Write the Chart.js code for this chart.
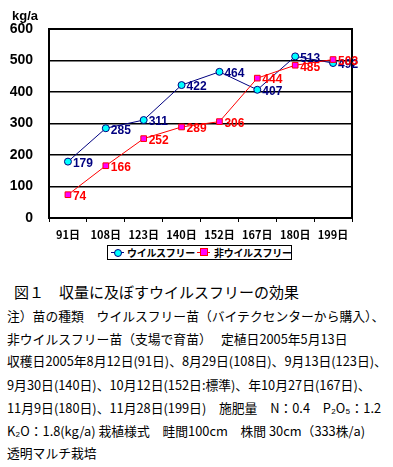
<!DOCTYPE html>
<html>
<head>
<meta charset="utf-8">
<script src="https://cdn.jsdelivr.net/npm/chart.js@4/dist/chart.umd.min.js"></script>
<style>
  body { margin: 0; background: #fff; width: 393px; height: 467px; overflow: hidden; position: relative; font-family: "Noto Sans CJK JP", sans-serif; }
  #wrap { position: absolute; left: 0; top: 0; width: 393px; height: 245px; }
  #unit { position: absolute; left: 12px; top: 8px; font: bold 13px "Liberation Sans", sans-serif; }
  #legend { position: absolute; left: 107px; top: 245px; width: 183px; height: 13px; border: 1px solid #000;
            font: bold 10px "Noto Sans CJK JP"; letter-spacing: -0.3px; line-height: 13px; white-space: nowrap; }
  .item { position: absolute; top: 0; }
  .seg { position: absolute; top: 6px; width: 13px; height: 1px; }
  .mk { position: absolute; }
  .cap { position: absolute; left: 7px; white-space: pre; font-size: 12.8px; line-height: 16px; color: #000; }
</style>
</head>
<body>
<div id="wrap"><canvas id="c"></canvas></div>
<div id="unit">kg/a</div>
<div id="legend">
  <span class="seg" style="left:3px;background:#000080"></span>
  <span class="mk" style="left:6px;top:3px;width:6px;height:6px;border-radius:50%;background:#00ffff;border:1px solid #000080"></span>
  <span class="item" style="left:19px">ウイルスフリー</span>
  <span class="seg" style="left:89px;background:#ff0000"></span>
  <span class="mk" style="left:92px;top:2px;width:6px;height:6px;background:#ff00ff;border:1px solid #ff0000"></span>
  <span class="item" style="left:106px">非ウイルスフリー</span>
</div>

<div class="cap" style="left:14px;top:284px;font-size:15px;">図１　収量に及ぼすウイルスフリーの効果</div>
<div class="cap" style="top:308px">注）苗の種類　ウイルスフリー苗（バイテクセンターから購入）、</div>
<div class="cap" style="top:331px">非ウイルスフリー苗（支場で育苗）　 定植日2005年5月13日</div>
<div class="cap" style="top:353px">収穫日2005年8月12日(91日)、8月29日(108日)、9月13日(123日)、</div>
<div class="cap" style="top:377px">9月30日(140日)、10月12日(152日:標準)、年10月27日(167日)、</div>
<div class="cap" style="top:400px">11月9日(180日)、11月28日(199日)　施肥量　N：0.4　P₂O₅：1.2</div>
<div class="cap" style="top:423px">K₂O：1.8(kg/a) 栽植様式　畦間100cm　株間 30cm（333株/a)</div>
<div class="cap" style="top:445px">透明マルチ栽培</div>

<script>
// harvest day categories
const days = ['91日', '108日', '123日', '140日', '152日', '167日', '180日', '199日'];
// yields kg/a
const virusFree = [179, 285, 311, 422, 464, 407, 513, 492];
const nonVirusFree = [74, 166, 252, 289, 306, 444, 485, 503];
const yTicks = [0, 100, 200, 300, 400, 500, 600];

// frame round the plot area + value labels right of each point
const framePlugin = {
  id: 'frame',
  afterDatasetsDraw(chart) {
    const { ctx, chartArea: a } = chart;
    ctx.save();
    ctx.strokeStyle = '#000';
    ctx.lineWidth = 2;
    ctx.strokeRect(a.left, a.top, a.right - a.left, a.bottom - a.top);
    ctx.font = 'bold 12px "Liberation Sans"';
    ctx.textBaseline = 'middle';
    chart.data.datasets.forEach((ds, i) => {
      const meta = chart.getDatasetMeta(i);
      ctx.fillStyle = ds.labelColor;
      meta.data.forEach((pt, j) => {
        ctx.fillText(ds.data[j], pt.x + 5, pt.y + 2);
      });
    });
    ctx.restore();
  }
};

new Chart(document.getElementById('c'), {
  type: 'line',
  data: {
    labels: days,
    datasets: [
      {
        label: 'ウイルスフリー',
        data: virusFree,
        borderColor: '#000080',
        borderWidth: 1,
        pointStyle: 'circle',
        pointRadius: 3.5,
        pointBackgroundColor: '#00ffff',
        pointBorderColor: '#000080',
        pointBorderWidth: 1,
        labelColor: '#000080',
        tension: 0,
        order: 1
      },
      {
        label: '非ウイルスフリー',
        data: nonVirusFree,
        borderColor: '#ff0000',
        borderWidth: 1,
        pointStyle: 'rect',
        pointRadius: 4,
        pointBackgroundColor: '#ff00ff',
        pointBorderColor: '#ff0000',
        pointBorderWidth: 1,
        labelColor: '#ff0000',
        tension: 0,
        order: 0
      }
    ]
  },
  options: {
    responsive: true,
    maintainAspectRatio: false,
    animation: false,
    layout: { padding: { left: 0, right: 41, top: 29, bottom: 0 } },
    plugins: { legend: { display: false }, tooltip: { enabled: false } },
    scales: {
      x: {
        offset: true,
        grid: { offset: true, drawOnChartArea: false, drawTicks: true, tickLength: 4, color: '#000' },
        border: { color: '#000', width: 2 },
        ticks: {
          color: '#000', padding: 6, autoSkip: false, minRotation: 0, maxRotation: 0,
          font: { family: 'Noto Sans CJK JP', size: 11, weight: 'bold' }
        },
        afterFit(s) { s.height = 27; }
      },
      y: {
        min: 0,
        max: 600,
        afterBuildTicks(s) { s.ticks = yTicks.map(v => ({ value: v })); },
        grid: { color: '#000', lineWidth: 1.5, drawTicks: false },
        border: { color: '#000', width: 2 },
        ticks: { color: '#000', padding: 16, font: { family: 'Liberation Sans', size: 14, weight: 'bold' } },
        afterFit(s) { s.width = 49; }
      }
    }
  },
  plugins: [framePlugin]
});
</script>
</body>
</html>
